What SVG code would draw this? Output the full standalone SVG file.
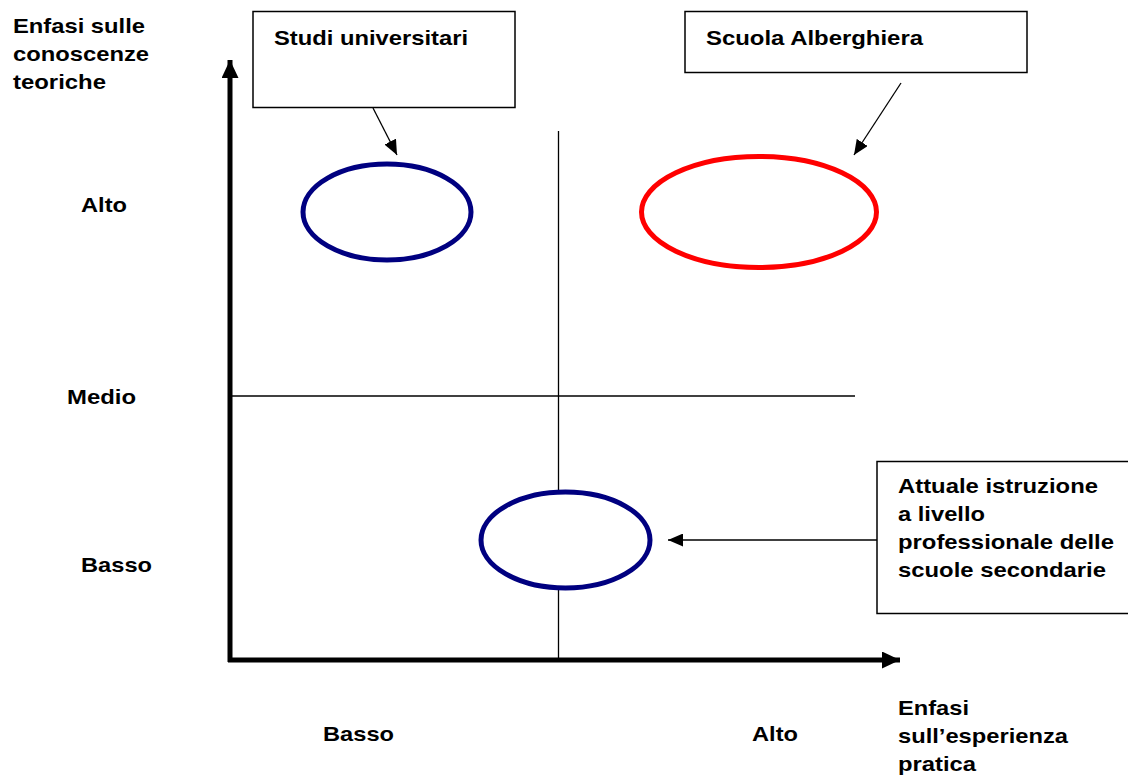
<svg xmlns="http://www.w3.org/2000/svg" width="1128" height="775" viewBox="0 0 1128 775">
<style>
.t{font-family:"Liberation Sans",Arial,sans-serif;font-weight:bold;font-size:21px;fill:#000}
.box{fill:#fff;stroke:#000;stroke-width:1.5}
.ax{stroke:#000;stroke-width:5;fill:none}
.thin{stroke:#000;stroke-width:1.3;fill:none}
.eb{fill:#fff;stroke:#000080;stroke-width:5}
.er{fill:#fff;stroke:#ff0000;stroke-width:5}
</style>
<defs>
<marker id="ah" markerUnits="userSpaceOnUse" markerWidth="15" markerHeight="13" refX="15" refY="6.5" orient="auto"><path d="M0,0 L15,6.5 L0,13 z" fill="#000"/></marker>
<marker id="axh" markerUnits="userSpaceOnUse" markerWidth="18" markerHeight="17" refX="18" refY="8.5" orient="auto"><path d="M0,0 L18,8.5 L0,17 z" fill="#000"/></marker>
</defs>
<rect width="1128" height="775" fill="#fff"/>
<g id="axes">
<line class="ax" x1="230" y1="662" x2="230" y2="60" marker-end="url(#axh)"/>
<line class="ax" x1="228" y1="660" x2="900" y2="660" marker-end="url(#axh)"/>
<line class="thin" x1="558.5" y1="131" x2="558.5" y2="658"/>
<line class="thin" x1="232" y1="396" x2="855" y2="396"/>
</g>
<g id="y-title">
<text class="t" x="13" y="33" textLength="132" lengthAdjust="spacingAndGlyphs">Enfasi sulle</text>
<text class="t" x="13" y="61" textLength="136" lengthAdjust="spacingAndGlyphs">conoscenze</text>
<text class="t" x="13" y="89" textLength="93" lengthAdjust="spacingAndGlyphs">teoriche</text>
</g>
<g id="y-labels">
<text class="t" x="81" y="212" textLength="46" lengthAdjust="spacingAndGlyphs">Alto</text>
<text class="t" x="67" y="404" textLength="69" lengthAdjust="spacingAndGlyphs">Medio</text>
<text class="t" x="81" y="572" textLength="71" lengthAdjust="spacingAndGlyphs">Basso</text>
</g>
<g id="x-labels">
<text class="t" x="323" y="741" textLength="71" lengthAdjust="spacingAndGlyphs">Basso</text>
<text class="t" x="752" y="741" textLength="46" lengthAdjust="spacingAndGlyphs">Alto</text>
</g>
<g id="x-title">
<text class="t" x="898" y="715" textLength="71" lengthAdjust="spacingAndGlyphs">Enfasi</text>
<text class="t" x="898" y="743" textLength="170" lengthAdjust="spacingAndGlyphs">sull’esperienza</text>
<text class="t" x="898" y="771" textLength="78" lengthAdjust="spacingAndGlyphs">pratica</text>
</g>
<g id="box-studi">
<rect class="box" x="253" y="11.5" width="262" height="96"/>
<text class="t" x="274" y="45" textLength="194" lengthAdjust="spacingAndGlyphs">Studi universitari</text>
</g>
<g id="box-scuola">
<rect class="box" x="685" y="11.5" width="342" height="61"/>
<text class="t" x="706" y="45" textLength="217" lengthAdjust="spacingAndGlyphs">Scuola Alberghiera</text>
</g>
<g id="box-attuale">
<rect class="box" x="877" y="461.5" width="260" height="152"/>
<text class="t" x="898" y="493" textLength="200" lengthAdjust="spacingAndGlyphs">Attuale istruzione</text>
<text class="t" x="898" y="521" textLength="87" lengthAdjust="spacingAndGlyphs">a livello</text>
<text class="t" x="898" y="549" textLength="216" lengthAdjust="spacingAndGlyphs">professionale delle</text>
<text class="t" x="898" y="577" textLength="208" lengthAdjust="spacingAndGlyphs">scuole secondarie</text>
</g>
<g id="ellipse-studi"><ellipse class="eb" cx="387" cy="212" rx="84" ry="48"/></g>
<g id="ellipse-scuola"><ellipse class="er" cx="759" cy="212" rx="117.5" ry="55.5"/></g>
<g id="ellipse-attuale"><ellipse class="eb" cx="565.5" cy="540" rx="84.5" ry="48"/></g>
<g id="connectors">
<line class="thin" x1="373" y1="108" x2="397" y2="155" marker-end="url(#ah)"/>
<line class="thin" x1="901" y1="83" x2="854" y2="155" marker-end="url(#ah)"/>
<line class="thin" x1="877" y1="540" x2="668" y2="540" marker-end="url(#ah)"/>
</g>
</svg>
